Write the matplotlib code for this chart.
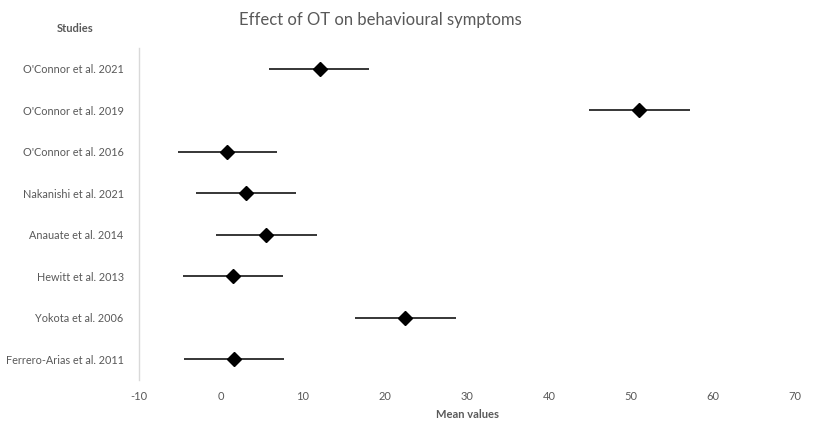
import matplotlib
matplotlib.use("Agg")
import matplotlib.pyplot as plt

studies = ["O'Connor et al. 2021", "O'Connor et al. 2019", "O'Connor et al. 2016",
           "Nakanishi et al. 2021", "Anauate et al. 2014", "Hewitt et al. 2013",
           "Yokota et al. 2006", "Ferrero-Arias et al. 2011"]
means = [12.1, 51.0, 0.7, 3.05, 5.45, 1.5, 22.4, 1.6]
lower = [5.85, 44.9, -5.3, -3.0, -0.55, -4.6, 16.3, -4.5]
upper = [18.1, 57.2, 6.8, 9.1, 11.7, 7.5, 28.65, 7.7]
xticks = [-10, 0, 10, 20, 30, 40, 50, 60, 70]

FONT = ["Lato", "DejaVu Sans"]
GRAY = "#595959"

fig = plt.figure(figsize=(8.15, 4.3), dpi=100)
ax = fig.add_axes([139/815, 50/430, (795-139)/815, (380-48)/430])

n = len(studies)
ypos = [n - 0.5 - i for i in range(n)]
xerr = [[m - l for m, l in zip(means, lower)], [u - m for m, u in zip(means, upper)]]
ax.errorbar(means, ypos, xerr=xerr, fmt='D', color='black', ecolor='black',
            elinewidth=1.1, capsize=0, markersize=7.5, zorder=3)

ax.set_xlim(-10, 70)
ax.set_ylim(0, n)
ax.set_xticks(xticks)
ax.set_xticklabels([str(t) for t in xticks], fontsize=8, color=GRAY, family=FONT)
ax.set_yticks(ypos)
ax.set_yticklabels(studies, fontsize=7.8, color=GRAY, family=FONT)
ax.tick_params(axis='both', length=0)
ax.tick_params(axis='y', pad=11)
ax.tick_params(axis='x', pad=8)
for s in ['top', 'right', 'bottom']:
    ax.spines[s].set_visible(False)
ax.spines['left'].set_color('#d9d9d9')
ax.spines['left'].set_linewidth(1)

fig.text(380/815, 1 - 20/430, "Effect of OT on behavioural symptoms", ha='center', va='center',
         fontsize=12, color=GRAY, family=FONT)
fig.text(75/815, 1 - 29/430, "Studies", ha='center', va='center',
         fontsize=8, color=GRAY, family=FONT, fontweight='bold')
fig.text(467/815, 1 - 415/430, "Mean values", ha='center', va='center',
         fontsize=8, color=GRAY, family=FONT, fontweight='bold')

fig.savefig("out.png", dpi=100)
